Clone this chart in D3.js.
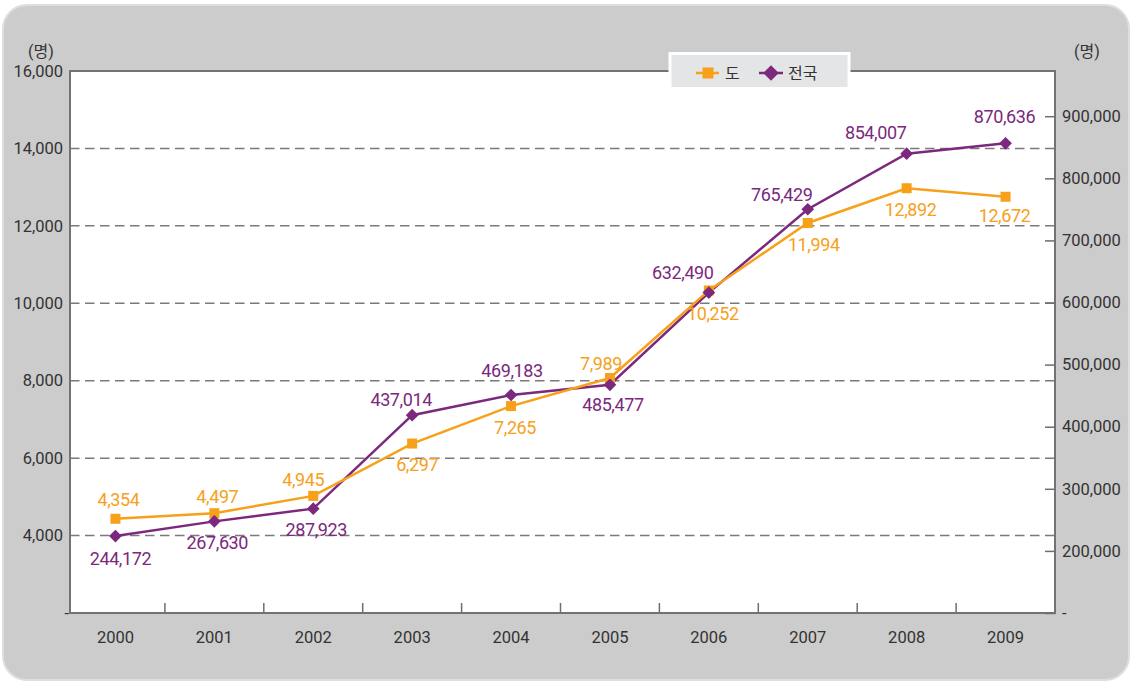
<!DOCTYPE html>
<html>
<head>
<meta charset="utf-8">
<script src="https://cdn.jsdelivr.net/npm/d3@7"></script>
<style>
  body { margin: 0; background: #fff; }
  text { font-family: Roboto, "Noto Sans CJK KR", sans-serif; }
</style>
</head>
<body>
<div id="chart"></div>
<script>
// Data
var years = ["2000", "2001", "2002", "2003", "2004", "2005", "2006", "2007", "2008", "2009"];
var doValues = [4354, 4497, 4945, 6297, 7265, 7989, 10252, 11994, 12892, 12672];
var nationValues = [244172, 267630, 287923, 437014, 469183, 485477, 632490, 765429, 854007, 870636];
var leftTicks = [2000, 4000, 6000, 8000, 10000, 12000, 14000, 16000];
var rightTicks = [100000, 200000, 300000, 400000, 500000, 600000, 700000, 800000, 900000];
var seriesNames = ["도", "전국"];
var unitLabel = "(명)";

// Label placement (dx, dy from the marker) for each point
var doLabelOffsets = [[3, -19], [3, -17], [-10, -16], [5, 21], [4, 21], [-9, -15], [4, 23], [6, 22], [4, 21], [-1, 19]];
var nationLabelOffsets = [[5, 22], [3, 21], [3, 21], [-11, -16], [1, -24], [3, 20], [-26, -20], [-26, -15], [-31, -21], [-1, -27]];

var svgWidth = 1133;
var svgHeight = 683;
var plot = { left: 70, top: 71, right: 1055, bottom: 613 };

var orange = "#f7a01a";
var purple = "#7b287d";
var fmt = d3.format(",");

var svg = d3.select("#chart").append("svg")
  .attr("width", svgWidth)
  .attr("height", svgHeight);

// Gray rounded panel
svg.append("rect")
  .attr("x", 3).attr("y", 5)
  .attr("width", 1126).attr("height", 675)
  .attr("rx", 24).attr("ry", 24)
  .attr("fill", "#cccccc")
  .attr("stroke", "#dedede")
  .attr("stroke-width", 2);

// Scales
var xBand = d3.scaleBand().domain(years).range([66, plot.right]);
var bw = xBand.bandwidth();
var xc = function(i) { return xBand(years[i]) + bw / 2; };

var yLeft = d3.scaleLinear().domain([2000, 16000]).range([plot.bottom, plot.top]);
var yRight = d3.scaleLinear().domain([100000, 972800]).range([plot.bottom, plot.top]);
// the plotted series sit a little off the printed axes in the source
var yDo = d3.scaleLinear().domain([1920, 15920]).range([plot.bottom, plot.top]);
var yNation = d3.scaleLinear().domain([121500, 985900]).range([plot.bottom, plot.top]);

// Plot area
svg.append("rect")
  .attr("x", plot.left).attr("y", plot.top)
  .attr("width", plot.right - plot.left).attr("height", plot.bottom - plot.top)
  .attr("fill", "#fff");

// Dashed gridlines
svg.append("g").selectAll("line")
  .data(leftTicks.filter(function(d) { return d > 2000 && d < 16000; }))
  .enter().append("line")
  .attr("x1", plot.left).attr("x2", plot.right)
  .attr("y1", function(d) { return yLeft(d); })
  .attr("y2", function(d) { return yLeft(d); })
  .attr("stroke", "#7a7a7a")
  .attr("stroke-width", 1.5)
  .attr("stroke-dasharray", "9.5,5.5");

// x tick marks between categories
svg.append("g").selectAll("line")
  .data(years.slice(1))
  .enter().append("line")
  .attr("x1", function(d) { return xBand(d); })
  .attr("x2", function(d) { return xBand(d); })
  .attr("y1", plot.bottom).attr("y2", plot.bottom - 10)
  .attr("stroke", "#6e6e6e")
  .attr("stroke-width", 1.5);

// Plot border
svg.append("rect")
  .attr("x", plot.left).attr("y", plot.top)
  .attr("width", plot.right - plot.left).attr("height", plot.bottom - plot.top)
  .attr("fill", "none")
  .attr("stroke", "#737373")
  .attr("stroke-width", 2);

// Left axis
var leftAxis = svg.append("g")
  .attr("transform", "translate(" + plot.left + ",0)")
  .call(d3.axisLeft(yLeft).tickValues(leftTicks).tickSize(0).tickPadding(7)
    .tickFormat(function(d) { return d === 2000 ? "-" : fmt(d); }));
leftAxis.select(".domain").remove();
leftAxis.selectAll("text")
  .attr("font-size", 16.5).attr("fill", "#333")
  .style("font-family", "Roboto, sans-serif")
  .filter(function(d) { return d === 2000; }).attr("x", -1);

// Right axis
var rightAxis = svg.append("g")
  .attr("transform", "translate(" + plot.right + ",0)")
  .call(d3.axisRight(yRight).tickValues(rightTicks).tickSizeInner(-10).tickSizeOuter(0).tickPadding(7)
    .tickFormat(function(d) { return d === 100000 ? "-" : fmt(d); }));
rightAxis.select(".domain").remove();
rightAxis.selectAll("line").attr("stroke", "#6e6e6e").attr("stroke-width", 1.5);
rightAxis.selectAll("text")
  .attr("font-size", 16.5).attr("fill", "#333")
  .style("font-family", "Roboto, sans-serif");

// Bottom axis labels
var bottomAxis = svg.append("g")
  .attr("transform", "translate(0," + plot.bottom + ")")
  .call(d3.axisBottom(xBand).tickSize(0).tickPadding(18));
bottomAxis.select(".domain").remove();
bottomAxis.selectAll("text")
  .attr("font-size", 16.5).attr("fill", "#333")
  .style("font-family", "Roboto, sans-serif");

// Unit labels
svg.append("text").attr("x", 41).attr("y", 57)
  .attr("text-anchor", "middle").attr("font-size", 16).attr("fill", "#333")
  .text(unitLabel);
svg.append("text").attr("x", 1087).attr("y", 57)
  .attr("text-anchor", "middle").attr("font-size", 16).attr("fill", "#333")
  .text(unitLabel);

// Lines
var idx = d3.range(years.length);
var nationLine = d3.line().x(function(i) { return xc(i); }).y(function(i) { return yNation(nationValues[i]); });
var doLine = d3.line().x(function(i) { return xc(i); }).y(function(i) { return yDo(doValues[i]); });

svg.append("path").datum(idx)
  .attr("d", nationLine).attr("fill", "none")
  .attr("stroke", purple).attr("stroke-width", 2.5);
svg.append("path").datum(idx)
  .attr("d", doLine).attr("fill", "none")
  .attr("stroke", orange).attr("stroke-width", 2.5);

// Markers
svg.append("g").selectAll("rect")
  .data(idx).enter().append("rect")
  .attr("x", function(i) { return xc(i) - 5; })
  .attr("y", function(i) { return yDo(doValues[i]) - 5; })
  .attr("width", 10).attr("height", 10)
  .attr("fill", orange);

svg.append("g").selectAll("rect")
  .data(idx).enter().append("rect")
  .attr("x", -4.5).attr("y", -4.5)
  .attr("width", 9).attr("height", 9)
  .attr("fill", purple)
  .attr("transform", function(i) {
    return "translate(" + xc(i) + "," + yNation(nationValues[i]) + ") rotate(45)";
  });

// Value labels
svg.append("g").selectAll("text")
  .data(idx).enter().append("text")
  .attr("x", function(i) { return xc(i) + doLabelOffsets[i][0]; })
  .attr("y", function(i) { return yDo(doValues[i]) + doLabelOffsets[i][1] + 6.5; })
  .attr("text-anchor", "middle")
  .attr("font-size", 18)
  .attr("letter-spacing", -0.4)
  .attr("fill", orange)
  .text(function(i) { return fmt(doValues[i]); });

svg.append("g").selectAll("text")
  .data(idx).enter().append("text")
  .attr("x", function(i) { return xc(i) + nationLabelOffsets[i][0]; })
  .attr("y", function(i) { return yNation(nationValues[i]) + nationLabelOffsets[i][1] + 6.5; })
  .attr("text-anchor", "middle")
  .attr("font-size", 18)
  .attr("letter-spacing", -0.4)
  .attr("fill", purple)
  .text(function(i) { return fmt(nationValues[i]); });

// Legend
var legend = svg.append("g");
legend.append("rect")
  .attr("x", 670).attr("y", 53.5)
  .attr("width", 179).attr("height", 35)
  .attr("fill", "#e4e5e7")
  .attr("stroke", "#fff").attr("stroke-width", 3);

legend.append("line").attr("x1", 696).attr("x2", 719).attr("y1", 73).attr("y2", 73)
  .attr("stroke", orange).attr("stroke-width", 2.5);
legend.append("rect").attr("x", 702.5).attr("y", 67.5).attr("width", 11).attr("height", 11)
  .attr("fill", orange);
legend.append("text").attr("x", 725).attr("y", 79)
  .attr("font-size", 16).attr("fill", "#333").text(seriesNames[0]);

legend.append("line").attr("x1", 759).attr("x2", 783).attr("y1", 73).attr("y2", 73)
  .attr("stroke", purple).attr("stroke-width", 2.5);
legend.append("rect").attr("x", -5.5).attr("y", -5.5).attr("width", 11).attr("height", 11)
  .attr("fill", purple)
  .attr("transform", "translate(771,73) rotate(45)");
legend.append("text").attr("x", 788).attr("y", 79)
  .attr("font-size", 16).attr("fill", "#333").text(seriesNames[1]);
</script>
</body>
</html>
